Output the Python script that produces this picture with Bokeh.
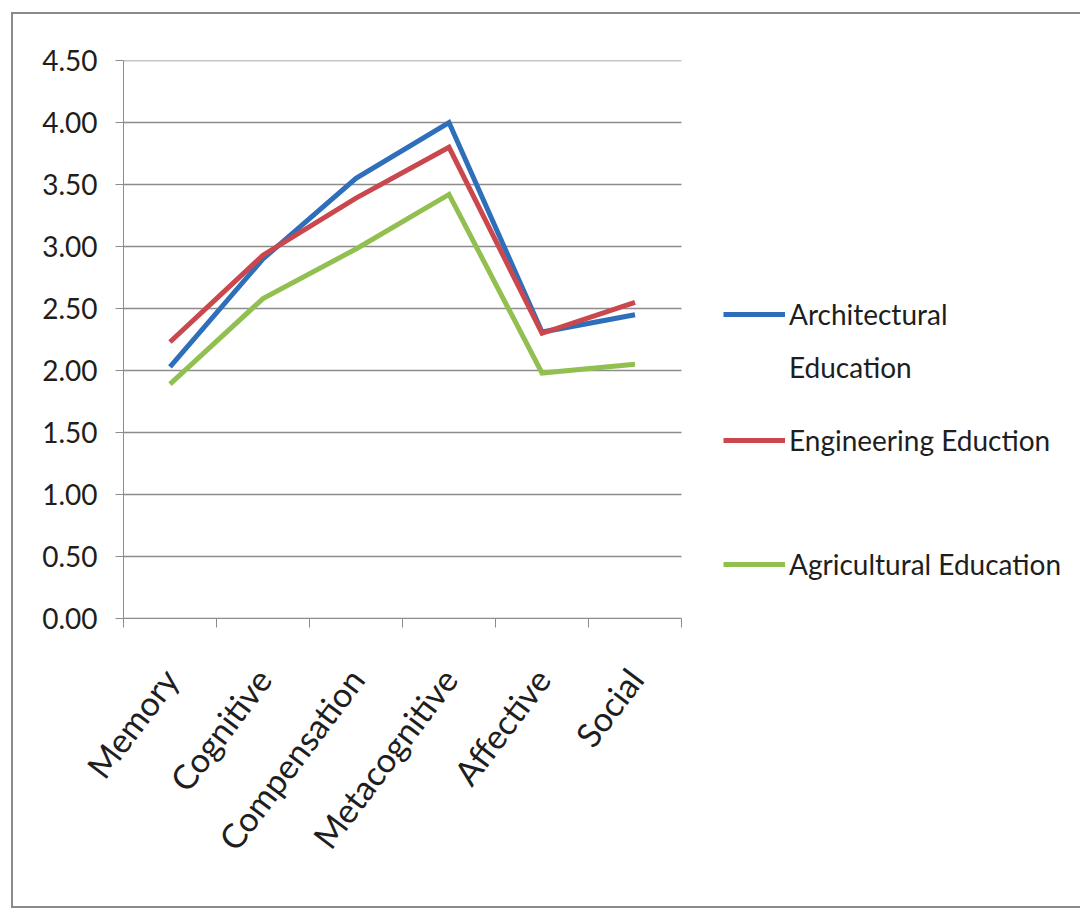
import math
from bokeh.plotting import figure
from bokeh.models import (Range1d, LinearAxis, FixedTicker, NumeralTickFormatter,
                          Legend, LegendItem, ColumnDataSource, GlobalInlineStyleSheet)
from bokeh.embed import file_html
from bokeh.resources import INLINE

# ---- data ----
categories = ["Memory", "Cognitive", "Compensation", "Metacognitive", "Affective", "Social"]
architectural = [2.03, 2.90, 3.55, 4.00, 2.31, 2.45]
engineering = [2.23, 2.93, 3.39, 3.80, 2.30, 2.55]
agricultural = [1.89, 2.58, 2.98, 3.42, 1.98, 2.05]
y_ticks = [0.0, 0.5, 1.0, 1.5, 2.0, 2.5, 3.0, 3.5, 4.0, 4.5]
series_labels = ["Architectural Education", "Engineering Eduction", "Agricultural Education"]
colors = ["#2f6fba", "#c9474d", "#92c050"]

FONT = "Lato"
TEXT = "#1e1e1e"
GRID = "#8c8c8c"

n = len(categories)
centers = [i + 0.5 for i in range(n)]   # category slot centres
edges = list(range(n + 1))               # category slot boundaries

W, H = 1080, 909
LEFT, TOP, BOTTOM = 123, 60, 291
PLOT_W = 558                      # width of the category area in px
frame_w = W - LEFT                # frame extends to the right edge to host the legend
x_end = n * frame_w / PLOT_W

p = figure(width=W, height=H,
           x_range=Range1d(0, x_end), y_range=Range1d(0, 4.5),
           output_backend="svg", toolbar_location=None,
           x_axis_location=None, y_axis_location=None,
           min_border_left=LEFT, min_border_right=0,
           min_border_top=TOP, min_border_bottom=BOTTOM)
p.outline_line_color = None
p.background_fill_color = "white"
p.border_fill_color = "white"
p.xgrid.visible = False
p.ygrid.visible = False
# thin grey frame around the whole chart area (as in the scanned original)
p.stylesheets = [GlobalInlineStyleSheet(css=(
    "body::after { content: ''; position: fixed; left: 11px; top: 12px; right: -20px; "
    "bottom: 1px; border: 2px solid #8a8a8a; pointer-events: none; z-index: 1000; }"))]

# y axis
yt = FixedTicker(ticks=y_ticks)
yaxis = LinearAxis(ticker=yt, formatter=NumeralTickFormatter(format="0.00"))
yaxis.axis_line_color = GRID
yaxis.major_tick_line_color = GRID
yaxis.major_tick_out = 8
yaxis.major_tick_in = 0
yaxis.minor_tick_line_color = None
yaxis.major_label_standoff = 18
yaxis.major_label_text_font = FONT
yaxis.major_label_text_font_size = "28px"
yaxis.major_label_text_color = TEXT
p.add_layout(yaxis, "left")

# horizontal gridlines spanning only the category area
p.segment(x0=[0] * len(y_ticks), x1=[n] * len(y_ticks), y0=y_ticks, y1=y_ticks,
          line_color=GRID, line_width=1.3)

# x axis: labels at slot centres, tick marks at slot boundaries
xaxis = LinearAxis(ticker=FixedTicker(ticks=centers, minor_ticks=edges), bounds=(0, n))
xaxis.major_label_overrides = {c: lab for c, lab in zip(centers, categories)}
xaxis.axis_line_color = GRID
xaxis.major_tick_line_color = None
xaxis.minor_tick_line_color = GRID
xaxis.minor_tick_out = 9
xaxis.minor_tick_in = 0
xaxis.major_label_orientation = math.radians(53)
xaxis.major_label_standoff = 45
xaxis.major_label_text_font = FONT
xaxis.major_label_text_font_size = "34px"
xaxis.major_label_text_color = TEXT
p.add_layout(xaxis, "below")

# lines
renderers = []
for vals, c in zip([architectural, engineering, agricultural], colors):
    src = ColumnDataSource(dict(x=centers, y=vals, cat=categories))
    r = p.line("x", "y", source=src, line_width=5, line_color=c, line_join="miter")
    renderers.append(r)

arch_words = series_labels[0].split(" ")

def make_legend(items, loc, spacing=0):
    lg = Legend(items=items, location=loc, orientation="vertical")
    lg.border_line_color = None
    lg.background_fill_alpha = 0
    lg.padding = 0
    lg.margin = 0
    lg.spacing = spacing
    lg.glyph_width = 62
    lg.glyph_height = 30
    lg.label_height = 30
    lg.label_standoff = 4
    lg.label_text_font = FONT
    lg.label_text_font_size = "28px"
    lg.label_text_color = TEXT
    return lg

p.add_layout(make_legend([LegendItem(label=arch_words[0], renderers=[renderers[0]]),
                          LegendItem(label=arch_words[1], renderers=[])], (600, 234), spacing=19))
p.add_layout(make_legend([LegendItem(label=series_labels[1], renderers=[renderers[1]])], (600, 161)))
p.add_layout(make_legend([LegendItem(label=series_labels[2], renderers=[renderers[2]])], (600, 37)))

open("out.html", "w").write(file_html(p, INLINE))
